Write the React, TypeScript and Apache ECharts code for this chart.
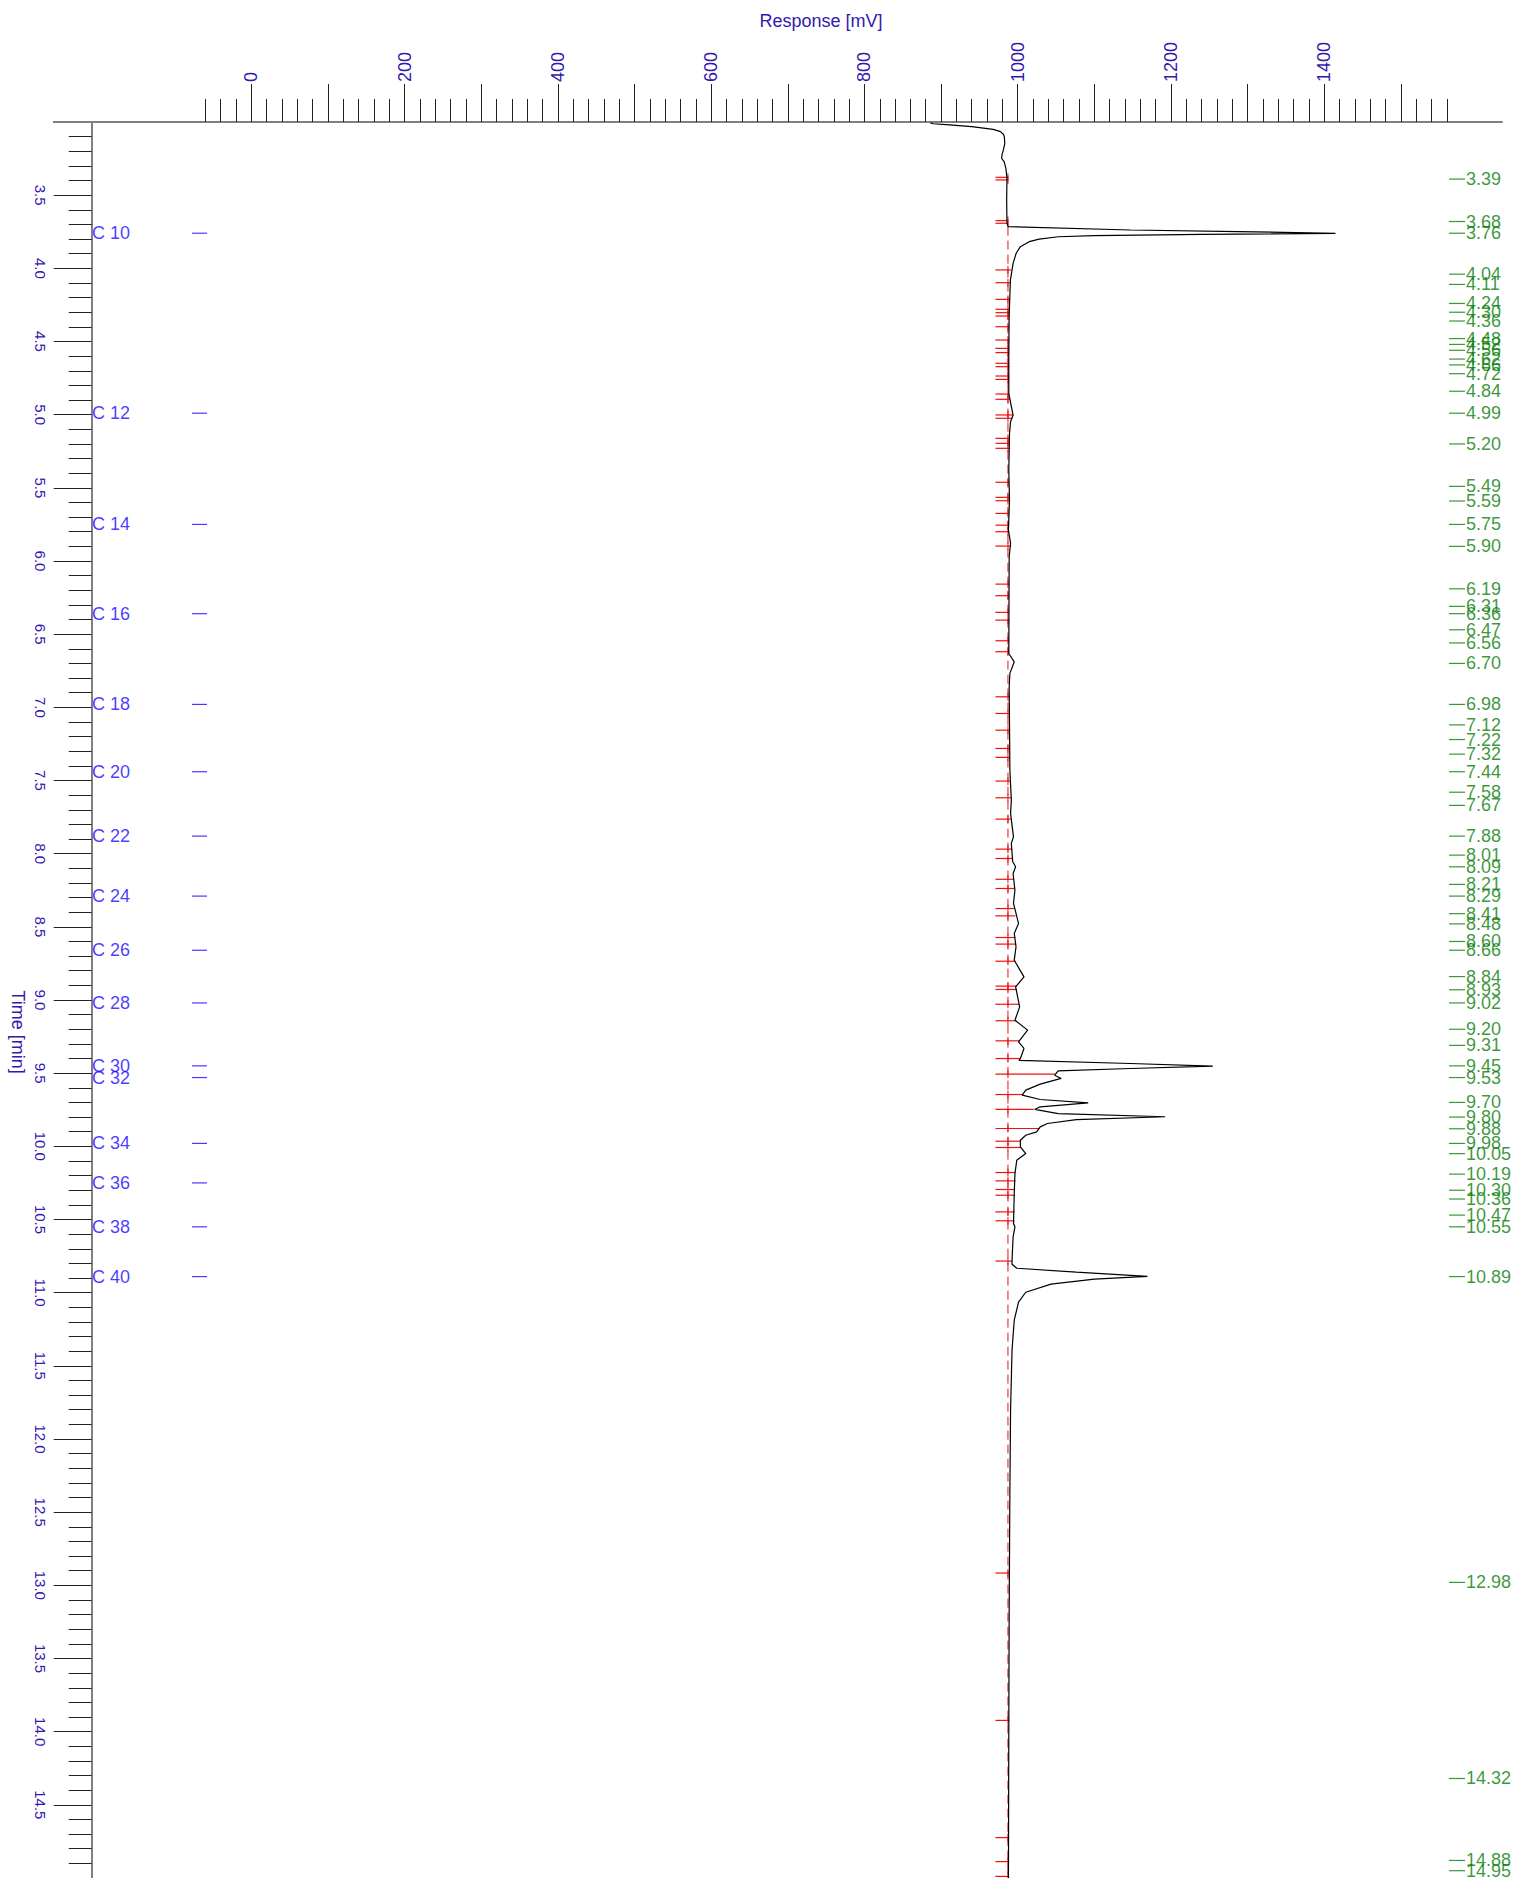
import React, { useEffect, useRef } from "react";
import * as echarts from "echarts";

// ---- axis extents ----
const TIME_MIN = 3;
const TIME_MAX = 15;
const MV_MIN = -208.4;
const MV_MAX = 1632;

// ---- tick labels ----
const xLabelValues = [0, 200, 400, 600, 800, 1000, 1200, 1400];
const yLabelValues = [3.5, 4.0, 4.5, 5.0, 5.5, 6.0, 6.5, 7.0, 7.5, 8.0, 8.5, 9.0, 9.5, 10.0, 10.5, 11.0, 11.5, 12.0, 12.5, 13.0, 13.5, 14.0, 14.5];

// ---- chromatogram trace (time [min], response [mV]) ----
const curveTimes = [
  3.006, 3.012, 3.02, 3.032, 3.05, 3.066, 3.085, 3.1, 3.146, 3.191, 3.225, 3.248, 3.271, 3.317, 3.385, 3.533, 3.693, 3.715,
  3.738, 3.749, 3.761, 3.768, 3.777, 3.784, 3.8, 3.818, 3.852, 3.897, 3.966, 4.08, 4.33, 4.6, 4.854, 4.945, 5.002, 5.048,
  5.128, 5.378, 5.583, 5.789, 5.88, 5.971, 6.632, 6.689, 6.768, 6.859, 7.429, 7.634, 7.725, 7.885, 7.93, 8.055, 8.089,
  8.136, 8.25, 8.34, 8.477, 8.545, 8.637, 8.728, 8.842, 8.91, 9.047, 9.138, 9.206, 9.286, 9.331, 9.4, 9.412, 9.434, 9.452,
  9.468, 9.484, 9.514, 9.536, 9.575, 9.616, 9.65, 9.68, 9.703, 9.73, 9.748, 9.776, 9.798, 9.817, 9.844, 9.867, 9.901,
  9.924, 9.958, 10.003, 10.049, 10.095, 10.186, 10.322, 10.527, 10.55, 10.618, 10.778, 10.806, 10.833, 10.86, 10.888,
  10.907, 10.942, 10.997, 11.065, 11.188, 11.394, 11.804, 12.35, 13.17, 13.99, 15.0,
];
const curveMv = [
  886, 890, 911, 940, 968, 977.6, 981.5, 982.5, 983.2, 981.3, 979.5, 979, 982.3, 984.6, 986, 985.6, 986, 987.9,
  1147, 1288, 1414.7, 1241, 1100, 1053, 1028, 1015, 1003.5, 998, 994, 990.5, 988.8, 988.4, 988.4, 991.7, 994, 990.7,
  989.3, 988.4, 989.3, 987.9, 990.7, 988.9, 988.4, 995.5, 989.8, 988.9, 989.8, 991.7, 990.7, 994.5, 991.7, 993.5, 997.3,
  994, 996.4, 994.5, 1001.1, 995.5, 997.8, 995.5, 1008.2, 997.3, 1002.5, 996.4, 1012.9, 1001.1, 1008.2, 1003.5, 1001.5, 1147.2, 1254.6,
  1147.2, 1052.9, 1048.2, 1056.7, 1029.4, 1010.5, 1005.8, 1029.4, 1092, 1029.4, 1022.3, 1052.9, 1192.4, 1076.5, 1038.8, 1029.4, 1024.7,
  1010.5, 1003.5, 1003.5, 1010.5, 998.8, 996.4, 995.5, 994.5, 996.4, 994, 992.6, 992.6, 998.8, 1076.5, 1169.3,
  1100, 1043.5, 1010.5, 1001.1, 995.5, 992.6, 990.7, 989.8, 988.9, 988.4, 987.9,
];

// ---- baseline ----
const BASELINE_MV = 987.3;
const BASELINE_START = 3.715;

// ---- peak boundary markers (time, response where the marker meets the trace) ----
const boundaryTimes = [
  3.378, 3.396, 3.674, 3.692, 4.011, 4.098, 4.212, 4.28, 4.303, 4.326, 4.399, 4.49, 4.547, 4.576, 4.649, 4.672, 4.736,
  4.759, 4.859, 4.895, 5.002, 5.025, 5.162, 5.196, 5.23, 5.462, 5.565, 5.588, 5.675, 5.755, 5.8, 5.898, 6.158, 6.237,
  6.351, 6.404, 6.545, 6.62, 6.928, 7.042, 7.156, 7.281, 7.342, 7.504, 7.618, 7.764, 7.969, 8.033, 8.175, 8.238, 8.375,
  8.425, 8.573, 8.618, 8.735, 8.905, 8.928, 9.029, 9.142, 9.279, 9.4, 9.507, 9.646, 9.748, 9.878, 9.965, 10.008, 10.179,
  10.236, 10.295, 10.334, 10.448, 10.509, 10.784, 12.916, 13.923, 14.724, 14.888, 14.989,
];
const boundaryMv = [
  986.5, 986.5, 986.5, 987, 991.5, 991, 990, 989.5, 989.5, 989.5, 989, 989, 989, 989, 989, 989, 989,
  989, 989, 990, 994, 993, 990, 990, 990, 989, 989, 989, 989, 989, 989, 990.7, 989, 989,
  989, 989, 989, 989, 990, 990, 990, 990, 990, 991, 991, 991, 993, 994, 995, 996, 996,
  997, 997, 998, 997, 998, 999, 1002, 998, 1003, 1004, 1048, 1006, 1021, 1028, 1004, 1004, 997,
  997, 996.5, 996.5, 996, 996, 993, 989.5, 989, 989, 989, 989,
];

// ---- retention-time labels (green, right) ----
const peakLabelTimes = [
  3.39, 3.68, 3.76, 4.04, 4.11, 4.24, 4.3, 4.36, 4.48, 4.52, 4.56, 4.62, 4.66, 4.72, 4.84, 4.99, 5.2, 5.49, 5.59, 5.75,
  5.9, 6.19, 6.31, 6.36, 6.47, 6.56, 6.7, 6.98, 7.12, 7.22, 7.32, 7.44, 7.58, 7.67, 7.88, 8.01, 8.09, 8.21, 8.29, 8.41,
  8.48, 8.6, 8.66, 8.84, 8.93, 9.02, 9.2, 9.31, 9.45, 9.53, 9.7, 9.8, 9.88, 9.98, 10.05, 10.19, 10.3, 10.36, 10.47, 10.55,
  10.89, 12.98, 14.32, 14.88, 14.95,
];

// ---- alkane reference labels (blue, left) ----
const carbonNames = ["C 10", "C 12", "C 14", "C 16", "C 18", "C 20", "C 22", "C 24", "C 26", "C 28", "C 30", "C 32", "C 34", "C 36", "C 38", "C 40"];
const carbonTimes = [3.76, 4.99, 5.75, 6.36, 6.98, 7.44, 7.88, 8.29, 8.66, 9.02, 9.45, 9.53, 9.98, 10.25, 10.55, 10.89];

// ---- layout / style constants ----
const W = 1517;
const H = 1878;
const GRID_LEFT = 91.7;
const GRID_TOP = 122;
const GRID_RIGHT = 15;
const GREEN_MARK_MV = 1573.3;
const CARBON_MARK_MV = -67.7;
const RED_LEFT_MV = 971;
const FONT = "'Liberation Sans', Arial, Helvetica, sans-serif";
const AXIS_TEXT = "#3318b0";
const BLUE = "#1a08ff";
const GREEN = "#077d07";
const RED = "#ee1111";

function range(a: number, b: number, step: number, skip: (v: number) => boolean): number[] {
  const out: number[] = [];
  for (let i = Math.round(a / step); i <= Math.round(b / step); i++) {
    const v = +(i * step).toFixed(4);
    if (!skip(v)) out.push(v);
  }
  return out;
}

export default function App() {
  const ref = useRef<HTMLDivElement>(null);

  useEffect(() => {
    if (!ref.current) return;
    const chart = echarts.init(ref.current, null, { renderer: "svg", width: W, height: H });

    const xMinor = range(-60, 1560, 20, (v) => Math.abs(v % 100) < 1e-6);
    const xMajor = range(0, 1500, 100, () => false);
    const yMinor = range(3.1, 14.9, 0.1, (v) => Math.abs(Math.round(v * 10) % 5) === 0);
    const yMajor = range(3.5, 14.5, 0.5, () => false);

    const baseX = {
      type: "value" as const,
      min: MV_MIN,
      max: MV_MAX,
      position: "top" as const,
      splitLine: { show: false },
      axisPointer: { show: false },
    };
    const baseY = {
      type: "value" as const,
      min: TIME_MIN,
      max: TIME_MAX,
      inverse: true,
      position: "left" as const,
      splitLine: { show: false },
      axisPointer: { show: false },
    };

    const option: any = {
      animation: false,
      backgroundColor: "#ffffff",
      textStyle: { fontFamily: FONT },
      grid: {
        left: GRID_LEFT,
        top: GRID_TOP,
        right: GRID_RIGHT,
        bottom: 0,
        containLabel: false,
        outerBoundsMode: "none",
      },
      xAxis: [
        {
          ...baseX,
          axisLine: { show: true, onZero: false, lineStyle: { color: "#7f7f7f", width: 2 } },
          axisTick: { show: true, length: 23, customValues: xMinor, lineStyle: { color: "#222", width: 1 } },
          axisLabel: { show: false },
        },
        {
          ...baseX,
          axisLine: { show: false, onZero: false },
          axisTick: { show: true, length: 38, customValues: xMajor, lineStyle: { color: "#222", width: 1 } },
          axisLabel: {
            show: true,
            customValues: xLabelValues,
            rotate: -90,
            margin: 40,
            fontSize: 18,
            color: AXIS_TEXT,
            fontFamily: FONT,
            formatter: (v: number) => String(Math.round(v)),
          },
        },
      ],
      yAxis: [
        {
          ...baseY,
          axisLine: { show: true, onZero: false, lineStyle: { color: "#7f7f7f", width: 2 } },
          axisTick: { show: true, length: 23, customValues: yMinor, lineStyle: { color: "#222", width: 1 } },
          axisLabel: { show: false },
        },
        {
          ...baseY,
          axisLine: { show: false, onZero: false },
          axisTick: { show: true, length: 38, customValues: yMajor, lineStyle: { color: "#222", width: 1 } },
          axisLabel: {
            show: true,
            customValues: yLabelValues,
            rotate: -90,
            margin: 44,
            fontSize: 15,
            color: AXIS_TEXT,
            fontFamily: FONT,
            formatter: (v: number) => v.toFixed(1),
          },
        },
      ],
      graphic: [
        {
          type: "line",
          silent: true,
          shape: { x1: 53, y1: GRID_TOP, x2: GRID_LEFT, y2: GRID_TOP },
          style: { stroke: "#7f7f7f", lineWidth: 2 },
        },
        {
          type: "text",
          x: 821,
          y: 21,
          silent: true,
          style: {
            text: "Response [mV]",
            fill: AXIS_TEXT,
            fontSize: 18,
            fontFamily: FONT,
            align: "center",
            verticalAlign: "middle",
            textAlign: "center",
            textVerticalAlign: "middle",
          },
        },
        {
          type: "text",
          x: 18,
          y: 1032,
          rotation: -Math.PI / 2,
          silent: true,
          style: {
            text: "Time [min]",
            fill: AXIS_TEXT,
            fontSize: 18,
            fontFamily: FONT,
            align: "center",
            verticalAlign: "middle",
            textAlign: "center",
            textVerticalAlign: "middle",
          },
        },
      ],
      series: [
        {
          type: "line",
          name: "baseline",
          xAxisIndex: 0,
          yAxisIndex: 0,
          data: [
            [BASELINE_MV, BASELINE_START],
            [BASELINE_MV, TIME_MAX],
          ],
          showSymbol: false,
          symbol: "none",
          silent: true,
          lineStyle: { color: RED, width: 1, type: [9, 5] },
          z: 2,
        },
        {
          type: "custom",
          name: "boundaries",
          xAxisIndex: 0,
          yAxisIndex: 0,
          silent: true,
          data: boundaryTimes.map((t, i) => [boundaryMv[i], t]),
          encode: { x: 0, y: 1 },
          renderItem: (_params: any, api: any) => {
            const v = api.value(0);
            const t = api.value(1);
            const a = api.coord([RED_LEFT_MV, t]);
            const b = api.coord([v, t]);
            const c = api.coord([BASELINE_MV, t]);
            return {
              type: "group",
              children: [
                {
                  type: "line",
                  shape: { x1: a[0], y1: a[1], x2: b[0], y2: b[1] },
                  style: { stroke: RED, lineWidth: 1.2 },
                },
                {
                  type: "line",
                  shape: { x1: c[0], y1: c[1] - 4, x2: c[0], y2: c[1] + 4 },
                  style: { stroke: RED, lineWidth: 1 },
                },
              ],
            };
          },
          z: 3,
        },
        {
          type: "line",
          name: "trace",
          xAxisIndex: 0,
          yAxisIndex: 0,
          data: curveTimes.map((t, i) => [curveMv[i], t]),
          showSymbol: false,
          symbol: "none",
          silent: true,
          smooth: false,
          lineStyle: { color: "#000000", width: 1.2 },
          z: 4,
        },
        {
          type: "scatter",
          name: "rt labels",
          xAxisIndex: 0,
          yAxisIndex: 0,
          silent: true,
          data: peakLabelTimes.map((t) => [GREEN_MARK_MV, t]),
          symbol: "rect",
          symbolSize: [16, 1.2],
          itemStyle: { color: GREEN },
          label: {
            show: true,
            position: "right",
            distance: 1,
            color: GREEN,
            fontSize: 18,
            fontFamily: FONT,
            formatter: (p: any) => p.value[1].toFixed(2),
          },
          labelLayout: { hideOverlap: false },
          z: 5,
        },
        {
          type: "scatter",
          name: "alkanes",
          xAxisIndex: 0,
          yAxisIndex: 0,
          silent: true,
          data: carbonTimes.map((t, i) => ({ name: carbonNames[i], value: [CARBON_MARK_MV, t] })),
          symbol: "rect",
          symbolSize: [15, 1.2],
          itemStyle: { color: BLUE },
          label: {
            show: true,
            position: [-100, 0.6],
            align: "left",
            verticalAlign: "middle",
            color: BLUE,
            fontSize: 18,
            fontFamily: FONT,
            formatter: "{b}",
          },
          labelLayout: { hideOverlap: false },
          z: 5,
        },
      ],
    };

    chart.setOption(option);
    return () => {
      chart.dispose();
    };
  }, []);

  return (
    <div
      ref={ref}
      style={{ position: "absolute", left: 0, top: 0, width: W, height: H, background: "#fff" }}
    />
  );
}
